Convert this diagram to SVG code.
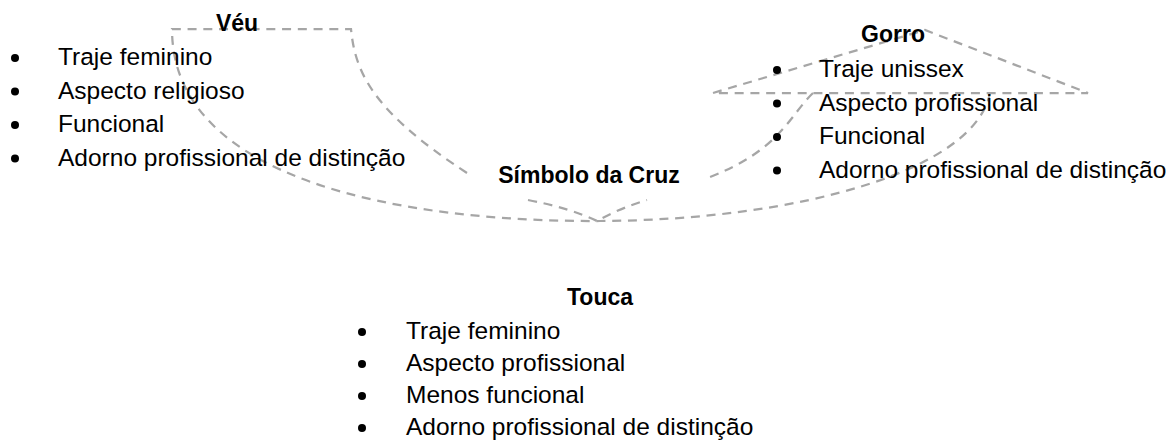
<svg xmlns="http://www.w3.org/2000/svg" width="1176" height="445" viewBox="0 0 1176 445">
<style>
.ln{fill:none;stroke:#A6A6A6;stroke-width:2.25;stroke-dasharray:9 6.75;}
.t{font-family:"Liberation Sans",Arial,sans-serif;font-size:24.5px;fill:#000;}
.h{font-family:"Liberation Sans",Arial,sans-serif;font-size:23px;font-weight:bold;fill:#000;text-anchor:middle;}
.b{fill:#000;}
</style>
<rect width="1176" height="445" fill="#fff"/>
<g id="connectors">
<path class="ln" d="M467,173 C370,110 355,70 351,29 L172,29 C172,180 400,222 600,221 C800,220 975,170 990,93"/>
<path class="ln" d="M713,93 L925,30 L1088,93 Z"/>
<path class="ln" d="M813,93 C790,115 780,150 710,177"/>
<path class="ln" d="M528,200 Q570,208 597,221 Q620,208 647,200"/>
</g>
<g id="veu">
<text class="h" x="237" y="31">Véu</text>
<circle class="b" cx="15" cy="58" r="4"/>
<circle class="b" cx="15" cy="91.5" r="4"/>
<circle class="b" cx="15" cy="125" r="4"/>
<circle class="b" cx="15" cy="158.5" r="4"/>
<text class="t" x="58" y="65">Traje feminino</text>
<text class="t" x="58" y="98.5">Aspecto religioso</text>
<text class="t" x="58" y="132">Funcional</text>
<text class="t" x="58" y="165.5">Adorno profissional de distinção</text>
</g>
<g id="gorro">
<text class="h" x="893" y="42">Gorro</text>
<circle class="b" cx="777" cy="70" r="4"/>
<circle class="b" cx="777" cy="103.5" r="4"/>
<circle class="b" cx="777" cy="137" r="4"/>
<circle class="b" cx="777" cy="170.5" r="4"/>
<text class="t" x="819" y="77">Traje unissex</text>
<text class="t" x="819" y="110.5">Aspecto profissional</text>
<text class="t" x="819" y="144">Funcional</text>
<text class="t" x="819" y="177.5">Adorno profissional de distinção</text>
</g>
<g id="simbolo">
<text class="h" x="589" y="183">Símbolo da Cruz</text>
</g>
<g id="touca">
<text class="h" x="600" y="305">Touca</text>
<circle class="b" cx="362" cy="332" r="4"/>
<circle class="b" cx="362" cy="364" r="4"/>
<circle class="b" cx="362" cy="396" r="4"/>
<circle class="b" cx="362" cy="428" r="4"/>
<text class="t" x="406" y="339">Traje feminino</text>
<text class="t" x="406" y="371">Aspecto profissional</text>
<text class="t" x="406" y="403">Menos funcional</text>
<text class="t" x="406" y="435">Adorno profissional de distinção</text>
</g>
</svg>
